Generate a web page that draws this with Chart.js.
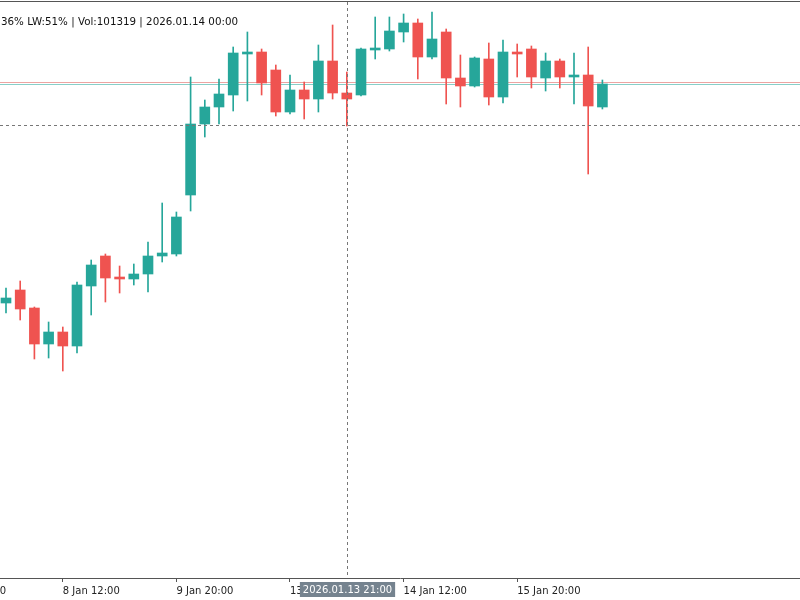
<!DOCTYPE html>
<html>
<head>
<meta charset="utf-8">
<script src="https://cdn.jsdelivr.net/npm/chart.js@4.4.1/dist/chart.umd.min.js"></script>
<style>
  html, body { margin: 0; padding: 0; background: #fff; }
  #wrap { width: 800px; height: 600px; }
</style>
</head>
<body>
<div id="wrap"><canvas id="chart" width="800" height="600"></canvas></div>
<script>
// 4h candles (arbitrary price units)
const opens  = [297, 310, 292, 256, 268, 254, 314, 344, 323, 321, 326, 344, 346, 405, 476, 493, 505, 546, 548, 530, 488, 510, 501, 539, 507, 505, 550, 551, 568, 577, 543, 568, 522, 514, 541, 503, 548, 551, 522, 539, 523, 525, 493];
const highs  = [312, 319, 293, 278, 273, 318, 340, 346, 334, 336, 358, 397, 388, 523, 500, 521, 553, 568, 551, 535, 525, 518, 555, 575, 528, 552, 583, 583, 586, 581, 588, 571, 545, 543, 557, 560, 556, 554, 547, 541, 547, 553, 520];
const lows   = [287, 280, 241, 242, 229, 247, 285, 298, 307, 315, 308, 338, 344, 389, 463, 476, 489, 499, 505, 484, 486, 481, 488, 501, 474, 504, 541, 549, 558, 521, 541, 496, 493, 513, 495, 497, 523, 512, 509, 512, 496, 426, 491];
const closes = [302, 291, 256, 268, 254, 315, 335, 322, 321, 326, 344, 347, 383, 476, 493, 506, 547, 548, 517, 488, 510, 501, 539, 507, 501, 551, 552, 569, 577, 543, 561, 522, 514, 542, 503, 548, 546, 523, 539, 523, 525, 494, 516];

// time axis: bar index of each labelled tick
const tickBars   = [-4, 4, 12, 20, 28, 36];
const tickLabels = ['7 Jan 04:00', '8 Jan 12:00', '9 Jan 20:00', '13 Jan 04:00', '14 Jan 12:00', '15 Jan 20:00'];

const headerText = '36% LW:51% | Vol:101319 | 2026.01.14 00:00';
const askPrice = 518;
const bidPrice = 516;
const crossBar = 24;
const crossPrice = 475;
const crossLabel = '2026.01.13 21:00';

const upColor = '#26a69a';
const downColor = '#ef5350';
const FONT = '10px "DejaVu Sans"';

const barColor = (ctx) => closes[ctx.dataIndex] >= opens[ctx.dataIndex] ? upColor : downColor;

const overlay = {
    id: 'overlay',
    beforeDatasetsDraw(chart) {
        const { ctx, chartArea } = chart;
        const y = chart.scales.y;
        ctx.save();
        ctx.lineWidth = 1;
        ctx.strokeStyle = 'rgba(220, 90, 85, 0.55)';
        ctx.beginPath();
        ctx.moveTo(chartArea.left, Math.round(y.getPixelForValue(askPrice)) + 0.5);
        ctx.lineTo(chartArea.right, Math.round(y.getPixelForValue(askPrice)) + 0.5);
        ctx.stroke();
        ctx.strokeStyle = 'rgba(38, 166, 154, 0.55)';
        ctx.beginPath();
        ctx.moveTo(chartArea.left, Math.round(y.getPixelForValue(bidPrice)) + 0.5);
        ctx.lineTo(chartArea.right, Math.round(y.getPixelForValue(bidPrice)) + 0.5);
        ctx.stroke();
        ctx.restore();
    },
    afterDraw(chart) {
        const { ctx, chartArea } = chart;
        const x = chart.scales.x;
        const y = chart.scales.y;
        ctx.save();
        // frame top
        ctx.strokeStyle = '#555';
        ctx.lineWidth = 1;
        ctx.beginPath();
        ctx.moveTo(0, chartArea.top - 0.5);
        ctx.lineTo(800, chartArea.top - 0.5);
        ctx.stroke();

        // crosshair
        const cx = Math.round(x.getPixelForValue(crossBar)) + 0.5;
        const cy = Math.round(y.getPixelForValue(crossPrice)) + 0.5;
        ctx.strokeStyle = '#777';
        ctx.setLineDash([3, 3]);
        ctx.beginPath();
        ctx.moveTo(cx, chartArea.top);
        ctx.lineTo(cx, chartArea.bottom);
        ctx.moveTo(chartArea.left, cy);
        ctx.lineTo(chartArea.right, cy);
        ctx.stroke();
        ctx.setLineDash([]);

        // header
        ctx.font = '10.3px "DejaVu Sans"';
        ctx.fillStyle = '#111';
        ctx.textAlign = 'left';
        ctx.textBaseline = 'middle';
        ctx.fillText(headerText, 1, 22);

        // crosshair time box
        ctx.font = FONT;
        const w = ctx.measureText(crossLabel).width + 6;
        ctx.fillStyle = '#75838f';
        ctx.fillRect(cx - w / 2, 582, w, 15);
        ctx.fillStyle = '#fff';
        ctx.textAlign = 'center';
        ctx.fillText(crossLabel, cx, 590);
        ctx.restore();
    }
};

const idx = opens.map((_, i) => i);

new Chart(document.getElementById('chart'), {
    type: 'bar',
    data: {
        datasets: [
            {
                label: 'wick',
                data: idx.map(i => ({ x: i, y: [lows[i], highs[i]] })),
                backgroundColor: barColor,
                barThickness: 1,
                grouped: false,
                order: 2
            },
            {
                label: 'body',
                data: idx.map(i => ({ x: i, y: [opens[i], closes[i]] })),
                backgroundColor: barColor,
                barThickness: 10,
                minBarLength: 1,
                grouped: false,
                order: 1
            }
        ]
    },
    options: {
        responsive: false,
        animation: false,
        layout: { padding: { top: 2, left: 0, right: 0, bottom: 0 } },
        plugins: { legend: { display: false }, tooltip: { enabled: false } },
        scales: {
            x: {
                type: 'linear',
                offset: false,
                bounds: 'data',
                min: -6 / 14.2,
                max: -6 / 14.2 + 800 / 14.2,
                afterBuildTicks: (scale) => { scale.ticks = tickBars.map(v => ({ value: v })); },
                // the cut-off first label must not push the plot area inwards
                afterFit: (scale) => { scale.paddingLeft = 0; scale.paddingRight = 0; },
                grid: { drawOnChartArea: false, drawTicks: true, tickLength: 4, color: '#555', offset: false },
                border: { display: true, color: '#555', width: 1 },
                ticks: {
                    autoSkip: false,
                    maxRotation: 0,
                    minRotation: 0,
                    align: 'start',
                    padding: 3,
                    color: '#222',
                    font: { family: 'DejaVu Sans', size: 10 },
                    callback: (v) => {
                        const k = tickBars.indexOf(v);
                        return k >= 0 ? tickLabels[k] : '';
                    }
                }
            },
            y: {
                display: false,
                min: 22,
                max: 598
            }
        }
    },
    plugins: [overlay]
});
</script>
</body>
</html>
